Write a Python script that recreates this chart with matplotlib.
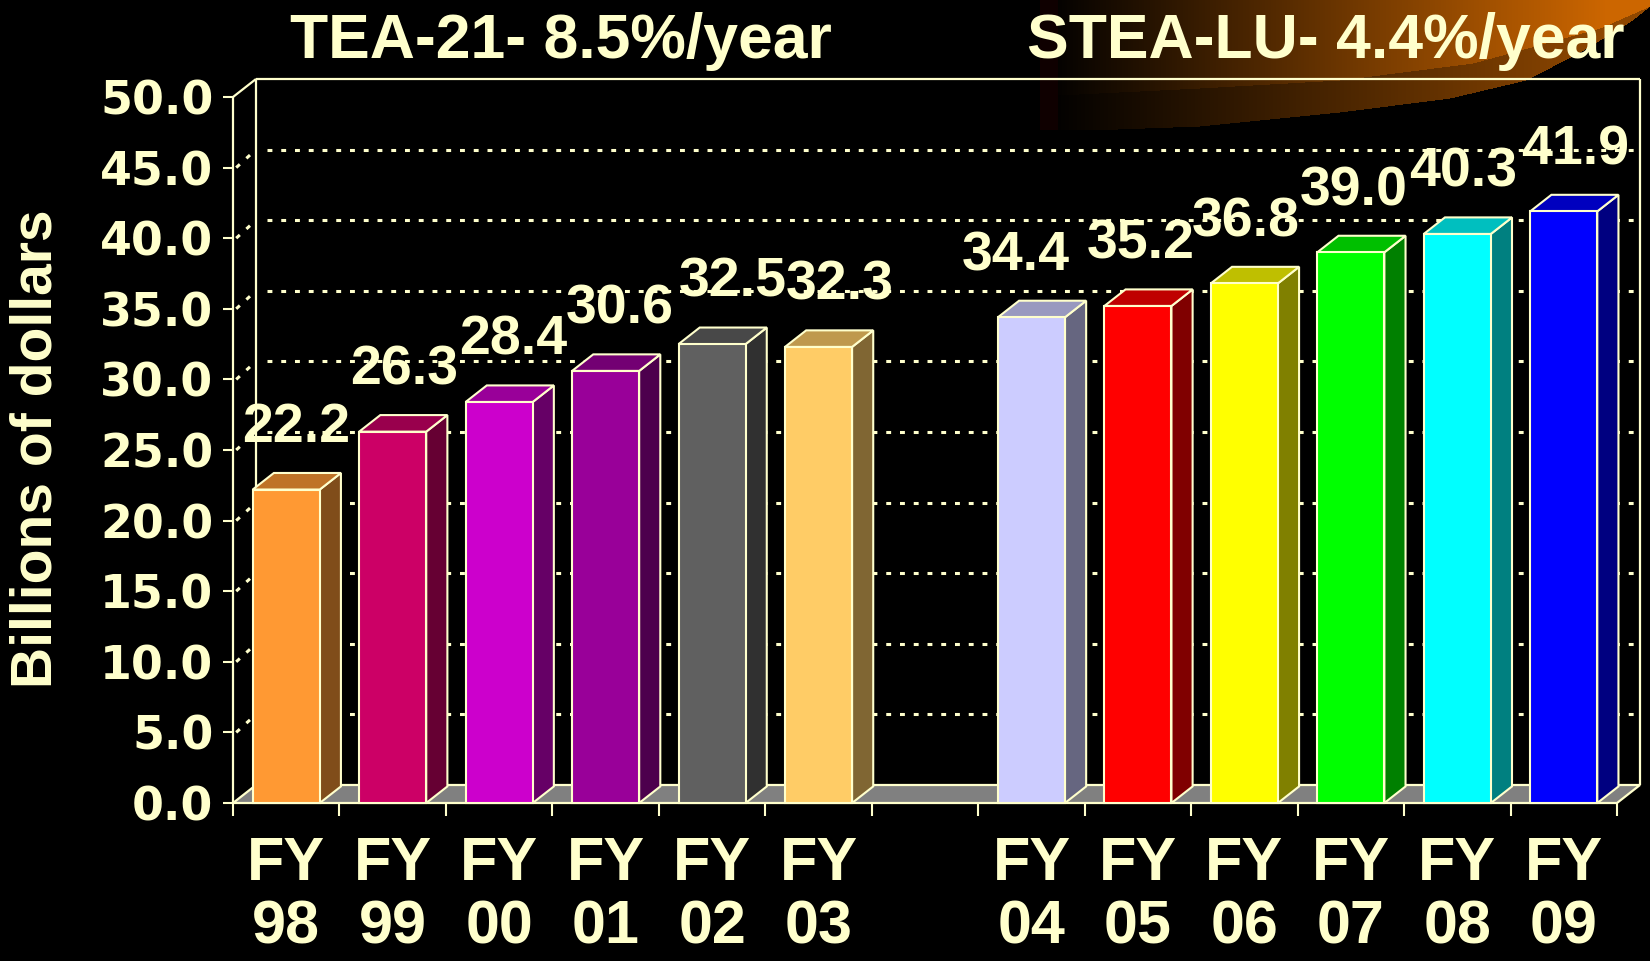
import numpy as np
import matplotlib.pyplot as plt
from matplotlib.patches import Polygon
from matplotlib.colors import to_rgb

# data
years = ['98', '99', '00', '01', '02', '03', '04', '05', '06', '07', '08', '09']
values = [22.2, 26.3, 28.4, 30.6, 32.5, 32.3, 34.4, 35.2, 36.8, 39.0, 40.3, 41.9]
bar_colors = ['#FF9933', '#CC0066', '#CC00CC', '#990099', '#606060', '#FFCC66',
              '#CCCCFF', '#FF0000', '#FFFF00', '#00FF00', '#00FFFF', '#0000FF']
gap_after = 6          # one empty slot after FY03
titles = ['TEA-21- 8.5%/year', 'STEA-LU- 4.4%/year']
y_ticks = np.arange(0, 50.1, 5)

# style: sideways nudge of each value label (points), as placed in the original
label_nudge = [7, 8, 10, 10, 15, 15, -11, 2, 1, 2, 4, 8]

CREAM = '#FFFFCC'
DX, DY = 0.216, 1.275      # depth of the back wall in data units
BW = 0.63                  # bar front width
BDX, BDY = DX * 0.92, DY * 0.92

slots = [i if i < gap_after else i + 1 for i in range(len(years))]
n_slots = len(years) + 1

fig = plt.figure(figsize=(16.5, 9.61), dpi=100, facecolor='black')

# orange swoosh in the top right corner (background decoration)
bg = fig.add_axes([0, 0, 1, 1], zorder=-5)
gx = np.arange(1000, 1650)
gy = np.arange(0, 140)
X, Y = np.meshgrid(gx, gy)
t = np.clip((X - 1045) / 560, 0, 1)
lower = np.interp(X, [1040, 1058, 1090, 1200, 1340, 1450, 1526, 1580, 1631, 1650],
                  [0, 130, 130, 126, 112, 98, 80, 52, 21, 6])
inner = np.interp(X, [1040, 1058, 1200, 1340, 1473, 1600, 1650],
                  [0, 95, 88, 80, 63, 28, 6])
shade = np.where(Y < inner, 1.0, 0.7) * (Y < lower)
edge = (gx >= 1040) & (gx < 1058)
shade[:, edge] = 0.0
base = np.array([0.8, 0.4, 0.0])
img = base[None, None, :] * (t * shade)[:, :, None]
img[:, edge, 0] = 0.06 * (Y[:, edge] < 130)
bg.imshow(img, extent=(1000, 1650, 140, 0), aspect='auto', interpolation='bilinear')
bg.set_xlim(0, 1650)
bg.set_ylim(961, 0)
bg.axis('off')

ax = fig.add_axes([233 / 1650, 158 / 961, 1384 / 1650, 706 / 961])
ax.set_facecolor('none')
xl, xr = -0.5, n_slots - 0.5
ax.set_xlim(xl, xr)
ax.set_ylim(0, 50)
for s in ax.spines.values():
    s.set_visible(False)

line_kw = dict(color=CREAM, lw=1.6, clip_on=False, solid_capstyle='butt')
dot_kw = dict(color=CREAM, lw=2.2, ls=(0, (1.6, 2.9)), clip_on=False)

# back wall
ax.plot([xl + DX, xl + DX], [DY, 50 + DY], zorder=1, **line_kw)
ax.plot([xr + DX, xr + DX], [DY, 50 + DY], zorder=1, **line_kw)
ax.plot([xl + DX, xr + DX], [50 + DY, 50 + DY], zorder=1, **line_kw)
for v in y_ticks[1:-1]:
    ax.plot([xl + DX + 0.1, xr + DX], [v + DY, v + DY], zorder=1, **dot_kw)
    ax.plot([xl + 0.03, xl + DX], [v, v + DY], zorder=1, **dot_kw)
ax.plot([xl, xl + DX], [50, 50 + DY], zorder=1, **line_kw)

# floor
ax.add_patch(Polygon([(xl, 0), (xr, 0), (xr + DX, DY), (xl + DX, DY)],
                     closed=True, facecolor='#808080', edgecolor=CREAM,
                     lw=1.6, zorder=2, clip_on=False))
ax.plot([xl, xl], [0, 50], zorder=2, **line_kw)

# 3d bars
for x, v, c, nx in zip(slots, values, bar_colors, label_nudge):
    rgb = np.array(to_rgb(c))
    x0, x1 = x - BW / 2, x + BW / 2
    front = [(x0, 0), (x1, 0), (x1, v), (x0, v)]
    side = [(x1, 0), (x1 + BDX, BDY), (x1 + BDX, v + BDY), (x1, v)]
    top = [(x0, v), (x1, v), (x1 + BDX, v + BDY), (x0 + BDX, v + BDY)]
    for pts, col in [(side, rgb * 0.5), (top, rgb * 0.75), (front, rgb)]:
        ax.add_patch(Polygon(pts, closed=True, facecolor=col, edgecolor=CREAM,
                             lw=1.5, zorder=3, clip_on=False, joinstyle='miter'))
    ax.annotate(f'{v:.1f}', (x, v), xytext=(nx, 34), textcoords='offset points',
                ha='center', va='baseline', fontsize=40, fontweight='bold',
                color=CREAM, family='Liberation Sans', zorder=6,
                annotation_clip=False)

# axes ticks and labels
ax.set_yticks(y_ticks)
ax.set_yticklabels([f'{v:.1f}' for v in y_ticks])
ax.tick_params(axis='y', length=7, width=1.5, color=CREAM, labelcolor=CREAM,
               labelsize=33, pad=7)
for lab in ax.get_yticklabels():
    lab.set_fontfamily('DejaVu Sans')
    lab.set_fontweight('bold')

ax.set_xticks(slots)
ax.set_xticklabels(['FY\n' + y for y in years])
ax.set_xticks(np.arange(xl, xr + 0.01, 1), minor=True)
ax.tick_params(axis='x', which='major', length=0, pad=24, labelcolor=CREAM,
               labelsize=44)
ax.tick_params(axis='x', which='minor', length=9, width=1.5, color=CREAM)
for lab in ax.get_xticklabels():
    lab.set_fontfamily(['Liberation Sans Narrow', 'Liberation Sans'])
    lab.set_fontweight('bold')
    lab.set_linespacing(1.13)

fig.text(37 / 1650, 1 - 449 / 961, 'Billions of dollars', rotation=90,
         ha='center', va='center', fontsize=41, fontweight='bold',
         color=CREAM, family='Liberation Sans')
for tx, title in zip([561, 1326], titles):
    fig.text(tx / 1650, 1 - 58 / 961, title, ha='center', va='baseline',
             fontsize=45, fontweight='bold', color=CREAM,
             family='Liberation Sans')

fig.savefig('out.png', dpi=100, facecolor='black')
